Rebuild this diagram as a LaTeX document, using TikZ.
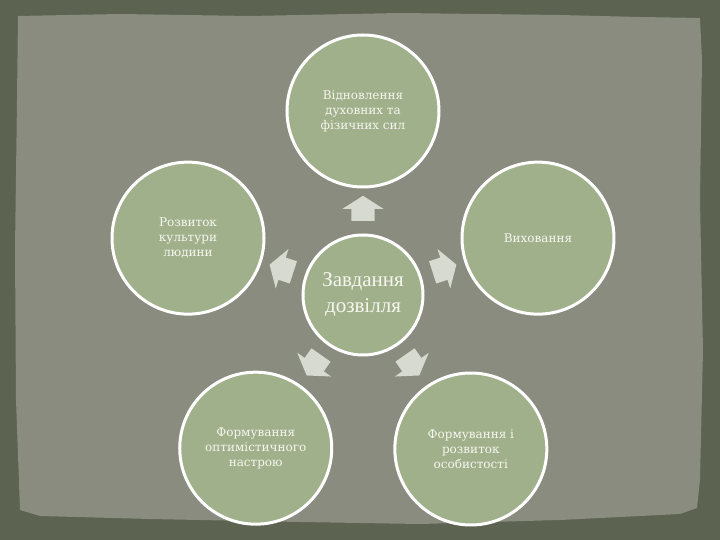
\documentclass[tikz,border=0pt]{standalone}
\usepackage{fontspec}
\setmainfont{Liberation Serif}
\newfontfamily\labelfont{DejaVu Serif}
\usetikzlibrary{shapes.arrows,calc}
\definecolor{outerbg}{RGB}{92,99,80}
\definecolor{paperbg}{RGB}{137,140,127}
\definecolor{circlefill}{RGB}{160,176,139}
\definecolor{arrowfill}{RGB}{214,218,208}
\definecolor{labeltext}{RGB}{246,246,238}
\begin{document}
\begin{tikzpicture}[x=1pt,y=1pt,
  main node/.style={circle,draw=white,line width=3pt,fill=circlefill,minimum size=152pt,inner sep=0pt,
    text=labeltext,align=center,font=\labelfont\fontsize{12}{15}\selectfont},
  core node/.style={main node,minimum size=120pt,font=\fontsize{21}{26}\selectfont},
  block arrow/.style={single arrow,fill=arrowfill,draw=none,inner sep=0pt,
    minimum height=25pt,single arrow head extend=9pt,single arrow tip angle=115}]
  \useasboundingbox (-363,-245) rectangle (357,295);
  \fill[outerbg] (-363,-245) rectangle (357,295);
  % paper sheet with torn edges
  \begin{scope}[shift={(-363,295)},yscale=-1]
    \fill[paperbg] (18,16) -- (120,14) -- (250,16) -- (400,13) -- (560,15) -- (640,17) -- (700,18)
      -- (702,60) -- (700,200) -- (703,350) -- (700,480) -- (697,508) -- (680,514) -- (560,520)
      -- (420,524) -- (300,522) -- (150,519) -- (40,516) -- (20,510) -- (16,400) -- (15,250)
      -- (17,100) -- cycle;
  \end{scope}

  \node[core node] (c) at (0,0) {Завдання\\дозвілля};
  \node[main node] (top) at (90:184) {Відновлення\\духовних та\\фізичних сил};
  \node[main node] (left) at (162:184) {Розвиток\\культури\\людини};
  \node[main node] (right) at (18:184) {Виховання};
  \node[main node] (bl) at (235:187) {Формування\\оптимістичного\\настрою};
  \node[main node] (br) at (305:188) {Формування і\\розвиток\\особистості};

  % shaft width comes from the strut inside each arrow
  \node[block arrow,rotate=90] (a1) at ($(c)!83pt!(top)$) {\rule{0pt}{23pt}};
  \node[block arrow,rotate=162] (a2) at ($(c)!82pt!(left)$) {\rule{0pt}{23pt}};
  \node[block arrow,rotate=18] (a3) at ($(c)!82pt!(right)$) {\rule{0pt}{23pt}};
  \node[block arrow,rotate=235] (a4) at ($(c)!82pt!(bl)$) {\rule{0pt}{23pt}};
  \node[block arrow,rotate=305] (a5) at ($(c)!82pt!(br)$) {\rule{0pt}{23pt}};
\end{tikzpicture}
\end{document}
